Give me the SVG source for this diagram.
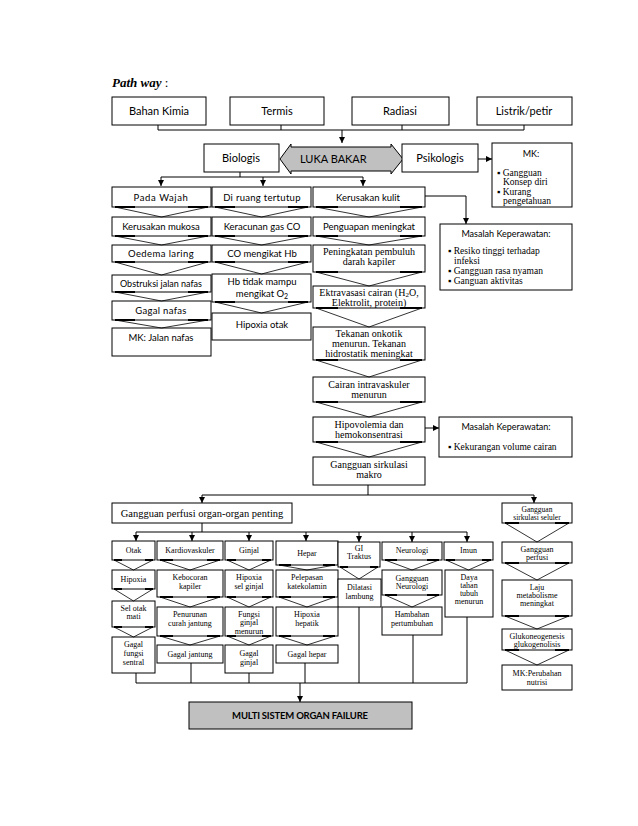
<svg xmlns="http://www.w3.org/2000/svg" width="638" height="826" viewBox="0 0 638 826">
<style>
.b{fill:#fff;stroke:#000;stroke-width:1}
.g{fill:#c0c0c0;stroke:#000;stroke-width:1}
.s{font-family:Lato,"Liberation Sans",sans-serif;fill:#000;text-anchor:middle}
.r{font-family:"Liberation Serif","Times New Roman",serif;fill:#000;text-anchor:middle}
.l{text-anchor:start}
.c{fill:none;stroke:#000;stroke-width:1}
.cv{fill:none;stroke:#000;stroke-width:0.8}
.fl{fill:none;stroke:#000;stroke-width:2.2}
</style>
<defs>
<marker id="ah" markerWidth="7" markerHeight="7" refX="6" refY="3.5" orient="auto" markerUnits="userSpaceOnUse"><path d="M0,0.5 L6,3.5 L0,6.5 z" fill="#000"/></marker>
<clipPath id="cMK"><rect x="492" y="143" width="80" height="64"/></clipPath>
<clipPath id="cFG"><rect x="225" y="607" width="48" height="29"/></clipPath>
</defs>
<rect width="638" height="826" fill="#fff"/>
<text x="112" y="87" font-family="Liberation Serif,serif" font-size="13"><tspan font-weight="bold" font-style="italic">Path way</tspan> :</text>

<g id="connectors">
<path class="c" d="M158,125 V130 M281,125 V130 M402,125 V130 M524,125 V130 M158,130 H524"/>
<path class="c" d="M342,130 V143" marker-end="url(#ah)"/>
<path class="c" d="M478,159 H492" marker-end="url(#ah)"/>
<path class="c" d="M240,172 V177 M161,177 H363"/>
<path class="c" d="M161,177 V186" marker-end="url(#ah)"/>
<path class="c" d="M263,177 V186" marker-end="url(#ah)"/>
<path class="c" d="M363,177 V186" marker-end="url(#ah)"/>
<path class="c" d="M425,196 H466 V224" marker-end="url(#ah)"/>
<path class="c" d="M425,428 H439" marker-end="url(#ah)"/>
<path class="c" d="M368,485 V495 M202,495 H534"/>
<path class="c" d="M202,495 V503" marker-end="url(#ah)"/>
<path class="c" d="M534,495 V503" marker-end="url(#ah)"/>
<path class="c" d="M202,523 V532 M136,532 H467"/>
<path class="c" d="M136,532 V541" marker-end="url(#ah)"/>
<path class="c" d="M192,532 V541" marker-end="url(#ah)"/>
<path class="c" d="M249,532 V541" marker-end="url(#ah)"/>
<path class="c" d="M306,532 V541" marker-end="url(#ah)"/>
<path class="c" d="M359,532 V542" marker-end="url(#ah)"/>
<path class="c" d="M412,532 V542" marker-end="url(#ah)"/>
<path class="c" d="M467,532 V542" marker-end="url(#ah)"/>
<path class="c" d="M136,673 V683 M191,663 V683 M249,673 V683 M305,663 V683 M359,607 V683 M413,635 V683 M467,617 V683 M136,683 H467"/>
<path class="c" d="M300,683 V702" marker-end="url(#ah)"/>
</g>

<g id="n-bahan"><rect class="b" x="112" y="97" width="94" height="28"/><text class="s" x="159" y="115" font-size="11">Bahan Kimia</text></g>
<g id="n-termis"><rect class="b" x="230" y="97" width="94" height="28"/><text class="s" x="277" y="115" font-size="11">Termis</text></g>
<g id="n-radiasi"><rect class="b" x="352" y="97" width="97" height="28"/><text class="s" x="400" y="115" font-size="11">Radiasi</text></g>
<g id="n-listrik"><rect class="b" x="477" y="97" width="95" height="28"/><text class="s" x="524" y="115" font-size="11">Listrik/petir</text></g>

<g id="n-biologis"><rect class="b" x="204" y="144" width="75" height="28"/><text class="s" x="241" y="162" font-size="11">Biologis</text></g>
<g id="n-luka"><path class="g" d="M280,159 L291,144 V147 H391 V144 L403,159 L391,174 V171 H291 V174 Z"/><text class="s l" x="300" y="163" font-size="11">LUKA BAKAR</text></g>
<g id="n-psikologis"><rect class="b" x="402" y="144" width="76" height="28"/><text class="s" x="440" y="162" font-size="11">Psikologis</text></g>
<g id="n-mk1"><rect class="b" x="492" y="143" width="80" height="64"/>
<g clip-path="url(#cMK)"><text class="s" x="531" y="157" font-size="9">MK:</text>
<text class="r l" font-size="9.5"><tspan x="497" y="176">▪ Gangguan</tspan><tspan x="503" y="185">Konsep diri</tspan><tspan x="497" y="195">▪ Kurang</tspan><tspan x="503" y="204">pengetahuan</tspan></text></g></g>

<g id="n-wajah"><rect class="b" x="112" y="187" width="99" height="20"/><text class="s" x="161" y="201" font-size="9.5" letter-spacing="0.6">Pada Wajah</text></g>
<g id="n-ruang"><rect class="b" x="212" y="187" width="99" height="20"/><text class="s" x="262" y="201" font-size="9.5" letter-spacing="0.3">Di ruang tertutup</text></g>
<g id="n-kulit"><rect class="b" x="313" y="187" width="112" height="20"/><text class="s" x="368" y="201" font-size="9.5">Kerusakan kulit</text></g>

<g id="n-mukosa"><rect class="b" x="112" y="217" width="99" height="19"/><text class="s" x="161" y="230" font-size="9.5">Kerusakan mukosa</text></g>
<g id="n-co"><rect class="b" x="212" y="217" width="99" height="19"/><text class="s" x="262" y="230" font-size="9.5">Keracunan gas CO</text></g>
<g id="n-penguapan"><rect class="b" x="313" y="217" width="112" height="19"/><text class="s" x="369" y="230" font-size="9.5">Penguapan meningkat</text></g>

<g id="n-oedema"><rect class="b" x="112" y="245" width="99" height="17"/><text class="s" x="161" y="257" font-size="9.5" letter-spacing="0.4">Oedema laring</text></g>
<g id="n-cohb"><rect class="b" x="212" y="245" width="99" height="17"/><text class="s" x="262" y="257" font-size="9.5">CO mengikat Hb</text></g>
<g id="n-pembuluh"><rect class="b" x="313" y="245" width="112" height="27"/><text class="r" x="369" y="255" font-size="10">Peningkatan pembuluh</text><text class="r" x="369" y="265" font-size="10">darah kapiler</text></g>

<g id="n-obstruksi"><rect class="b" x="112" y="275" width="99" height="17"/><text class="s" x="161" y="287" font-size="9">Obstruksi jalan nafas</text></g>
<g id="n-hb"><rect class="b" x="212" y="274" width="99" height="28"/><text class="s" x="262" y="285" font-size="9.5">Hb tidak mampu</text><text class="s" x="262" y="297" font-size="9.5">mengikat O<tspan font-size="7" dy="2">2</tspan></text></g>
<g id="n-ektravasasi"><rect class="b" x="313" y="286" width="112" height="22"/><text class="r" x="369" y="296" font-size="10">Ektravasasi cairan (H<tspan font-size="7" dy="1">2</tspan><tspan dy="-1">O,</tspan></text><text class="r" x="369" y="306" font-size="10">Elektrolit, protein)</text></g>

<g id="n-gagalnafas"><rect class="b" x="112" y="301" width="99" height="19"/><text class="s" x="161" y="314" font-size="9.5" letter-spacing="0.3">Gagal nafas</text></g>
<g id="n-hipoxiaotak"><rect class="b" x="212" y="313" width="99" height="27"/><text class="s" x="262" y="328" font-size="9.5">Hipoxia otak</text></g>
<g id="n-tekanan"><rect class="b" x="313" y="327" width="112" height="33"/><text class="r" x="369" y="337" font-size="10">Tekanan onkotik</text><text class="r" x="369" y="347" font-size="10">menurun. Tekanan</text><text class="r" x="369" y="357" font-size="10">hidrostatik meningkat</text></g>

<g id="n-mkjalan"><rect class="b" x="112" y="328" width="99" height="28"/><text class="s" x="161" y="341" font-size="9.5">MK: Jalan nafas</text></g>

<g id="n-masalah1"><rect class="b" x="440" y="224" width="132" height="66"/><text class="s" x="506" y="237" font-size="9">Masalah Keperawatan:</text>
<text class="r l" font-size="9.5"><tspan x="448" y="254">▪ Resiko tinggi terhadap</tspan><tspan x="454" y="263.5">infeksi</tspan><tspan x="448" y="274">▪ Gangguan rasa nyaman</tspan><tspan x="448" y="284">▪ Ganguan aktivitas</tspan></text></g>

<g id="n-cairan"><rect class="b" x="313" y="377" width="112" height="25"/><text class="r" x="369" y="388" font-size="10">Cairan intravaskuler</text><text class="r" x="369" y="398" font-size="10">menurun</text></g>
<g id="n-hipovolemia"><rect class="b" x="313" y="417" width="112" height="25"/><text class="r" x="369" y="428" font-size="10">Hipovolemia dan</text><text class="r" x="369" y="438" font-size="10">hemokonsentrasi</text></g>
<g id="n-masalah2"><rect class="b" x="439" y="417" width="133" height="40"/><text class="s" x="506" y="430" font-size="9">Masalah Keperawatan:</text>
<text class="r l" font-size="9.5" x="448" y="450">▪ Kekurangan volume cairan</text></g>
<g id="n-sirkulasi"><rect class="b" x="313" y="457" width="112" height="28"/><text class="r" x="369" y="468" font-size="10">Gangguan sirkulasi</text><text class="r" x="369" y="478" font-size="10">makro</text></g>

<g id="n-perfusi"><rect class="b" x="112" y="503" width="180" height="20"/><text class="r" x="202" y="517" font-size="10.5">Gangguan perfusi organ-organ penting</text></g>

<g id="n-otak"><rect class="b" x="112" y="541" width="43" height="19"/><text class="r" x="133.5" y="553" font-size="8">Otak</text></g>
<g id="n-kardio"><rect class="b" x="157" y="541" width="66" height="19"/><text class="r" x="190" y="553" font-size="8">Kardiovaskuler</text></g>
<g id="n-ginjal"><rect class="b" x="225" y="541" width="48" height="19"/><text class="r" x="249" y="553" font-size="8">Ginjal</text></g>
<g id="n-hepar"><rect class="b" x="276" y="541" width="62" height="24"/><text class="r" x="307" y="556" font-size="8">Hepar</text></g>
<g id="n-gi"><rect class="b" x="338" y="542" width="42" height="25"/><text class="r" x="359" y="551" font-size="8">GI</text><text class="r" x="359" y="559" font-size="8">Traktus</text></g>
<g id="n-neuro"><rect class="b" x="382" y="542" width="60" height="18"/><text class="r" x="412" y="553" font-size="8">Neurologi</text></g>
<g id="n-imun"><rect class="b" x="444" y="542" width="49" height="18"/><text class="r" x="468.5" y="553" font-size="8">Imun</text></g>

<g id="n-hipoxia1"><rect class="b" x="112" y="570" width="43" height="19"/><text class="r" x="133.5" y="582" font-size="8">Hipoxia</text></g>
<g id="n-kebocoran"><rect class="b" x="157" y="570" width="66" height="27"/><text class="r" x="190" y="580" font-size="8">Kebocoran</text><text class="r" x="190" y="589" font-size="8">kapiler</text></g>
<g id="n-hipoxiasel"><rect class="b" x="225" y="570" width="48" height="27"/><text class="r" x="249" y="580" font-size="8">Hipoxia</text><text class="r" x="249" y="589" font-size="8">sel ginjal</text></g>
<g id="n-pelepasan"><rect class="b" x="276" y="570" width="62" height="27"/><text class="r" x="307" y="580" font-size="8">Pelepasan</text><text class="r" x="307" y="589" font-size="8">katekolamin</text></g>
<g id="n-dilatasi"><rect class="b" x="338" y="579" width="43" height="28"/><text class="r" x="359.5" y="590" font-size="8">Dilatasi</text><text class="r" x="359.5" y="599" font-size="8">lambung</text></g>
<g id="n-gneuro"><rect class="b" x="382" y="570" width="60" height="25"/><text class="r" x="412" y="581" font-size="8">Gangguan</text><text class="r" x="412" y="589" font-size="8">Neurologi</text></g>
<g id="n-daya"><rect class="b" x="445" y="570" width="48" height="47"/><text class="r" x="469" y="580" font-size="8">Daya</text><text class="r" x="469" y="588" font-size="8">tahan</text><text class="r" x="469" y="596" font-size="8">tubuh</text><text class="r" x="469" y="604" font-size="8">menurun</text></g>

<g id="n-selotak"><rect class="b" x="112" y="601" width="43" height="26"/><text class="r" x="133.5" y="611" font-size="8">Sel otak</text><text class="r" x="133.5" y="619" font-size="8">mati</text></g>
<g id="n-penurunan"><rect class="b" x="157" y="607" width="66" height="29"/><text class="r" x="190" y="617" font-size="8">Penurunan</text><text class="r" x="190" y="626" font-size="8">curah jantung</text></g>
<g id="n-fungsi"><rect class="b" x="225" y="607" width="48" height="29"/><g clip-path="url(#cFG)"><text class="r" x="249" y="617" font-size="8">Fungsi</text><text class="r" x="249" y="625" font-size="8">ginjal</text><text class="r" x="249" y="634" font-size="8">menurun</text></g></g>
<g id="n-hipoxiahep"><rect class="b" x="276" y="607" width="62" height="29"/><text class="r" x="307" y="617" font-size="8">Hipoxia</text><text class="r" x="307" y="626" font-size="8">hepatik</text></g>
<g id="n-hambahan"><rect class="b" x="382" y="607" width="60" height="28"/><text class="r" x="412" y="617" font-size="8">Hambahan</text><text class="r" x="412" y="626" font-size="8">pertumbuhan</text></g>

<g id="n-gfungsi"><rect class="b" x="112" y="637" width="43" height="36"/><text class="r" x="133.5" y="647" font-size="8">Gagal</text><text class="r" x="133.5" y="656" font-size="8">fungsi</text><text class="r" x="133.5" y="665" font-size="8">sentral</text></g>
<g id="n-gjantung"><rect class="b" x="157" y="645" width="66" height="18"/><text class="r" x="190" y="657" font-size="8">Gagal jantung</text></g>
<g id="n-gginjal"><rect class="b" x="225" y="645" width="48" height="28"/><text class="r" x="249" y="656" font-size="8">Gagal</text><text class="r" x="249" y="665" font-size="8">ginjal</text></g>
<g id="n-ghepar"><rect class="b" x="276" y="645" width="62" height="18"/><text class="r" x="307" y="657" font-size="8">Gagal hepar</text></g>

<g id="n-seluler"><rect class="b" x="502" y="503" width="70" height="20"/><text class="r" x="537" y="512" font-size="7.5">Gangguan</text><text class="r" x="537" y="520" font-size="7.5">sirkulasi seluler</text></g>
<g id="n-gperfusi"><rect class="b" x="502" y="542" width="70" height="21"/><text class="r" x="537" y="552" font-size="8">Gangguan</text><text class="r" x="537" y="560" font-size="8">perfusi</text></g>
<g id="n-laju"><rect class="b" x="502" y="580" width="70" height="36"/><text class="r" x="537" y="590" font-size="8">Laju</text><text class="r" x="537" y="598" font-size="8">metabolisme</text><text class="r" x="537" y="606" font-size="8">meningkat</text></g>
<g id="n-gluko"><rect class="b" x="502" y="629" width="70" height="21"/><text class="r" x="537" y="639" font-size="8">Glukoneogenesis</text><text class="r" x="537" y="647" font-size="8">glukogenolisis</text></g>
<g id="n-mknutrisi"><rect class="b" x="502" y="665" width="70" height="25"/><text class="r" x="537" y="676" font-size="8">MK:Perubahan</text><text class="r" x="537" y="685" font-size="8">nutrisi</text></g>

<g id="n-multi"><rect class="g" x="189" y="702" width="223" height="27"/><text class="s" x="300" y="719" font-size="9.5" font-weight="bold" letter-spacing="-0.2">MULTI SISTEM ORGAN FAILURE</text></g>

<g id="chevrons">
<path class="cv" d="M115,207 L161.5,217 L208,207 M115,236 L161.5,245 L208,236 M115,262 L161.5,275 L208,262 M115,292 L161.5,301 L208,292 M115,320 L161.5,328 L208,320"/>
<path class="fl" d="M115,207 h20 M208,207 h-20 M115,236 h20 M208,236 h-20 M115,262 h20 M208,262 h-20 M115,292 h20 M208,292 h-20 M115,320 h20 M208,320 h-20"/>
<path class="cv" d="M215,207 L261.5,217 L308,207 M215,236 L261.5,245 L308,236 M215,262 L261.5,274 L308,262 M215,302 L261.5,313 L308,302"/>
<path class="fl" d="M215,207 h20 M308,207 h-20 M215,236 h20 M308,236 h-20 M215,262 h20 M308,262 h-20 M215,302 h20 M308,302 h-20"/>
<path class="cv" d="M316,207 L369,217 L422,207 M316,236 L369,245 L422,236 M316,272 L369,286 L422,272 M316,308 L369,327 L422,308 M316,360 L369,377 L422,360 M316,402 L369,417 L422,402 M316,442 L369,457 L422,442"/>
<path class="fl" d="M316,207 h22 M422,207 h-22 M316,236 h22 M422,236 h-22 M316,272 h22 M422,272 h-22 M316,308 h22 M422,308 h-22 M316,360 h22 M422,360 h-22 M316,402 h22 M422,402 h-22 M316,442 h22 M422,442 h-22"/>
<path class="cv" d="M114,560 L133.5,570 L153,560 M114,589 L133.5,601 L153,589 M114,627 L133.5,637 L153,627"/>
<path class="fl" d="M114,560 h8 M153,560 h-8 M114,589 h8 M153,589 h-8 M114,627 h8 M153,627 h-8"/>
<path class="cv" d="M160,560 L190,570 L220,560 M160,597 L190,607 L220,597 M160,636 L190,645 L220,636"/>
<path class="fl" d="M160,560 h13 M220,560 h-13 M160,597 h13 M220,597 h-13 M160,636 h13 M220,636 h-13"/>
<path class="cv" d="M227,560 L249,570 L271,560 M227,597 L249,607 L271,597 M227,636 L249,645 L271,636"/>
<path class="fl" d="M227,560 h9 M271,560 h-9 M227,597 h9 M271,597 h-9 M227,636 h9 M271,636 h-9"/>
<path class="cv" d="M279,565 L307,570 L335,565 M279,597 L307,607 L335,597 M279,636 L307,645 L335,636"/>
<path class="fl" d="M279,565 h12 M335,565 h-12 M279,597 h12 M335,597 h-12 M279,636 h12 M335,636 h-12"/>
<path class="cv" d="M340,567 L359,579 L378,567"/>
<path class="fl" d="M340,567 h8 M378,567 h-8"/>
<path class="cv" d="M385,560 L412,570 L439,560 M385,595 L412,607 L439,595"/>
<path class="fl" d="M385,560 h12 M439,560 h-12 M385,595 h12 M439,595 h-12"/>
<path class="cv" d="M446,560 L468.5,570 L491,560"/>
<path class="fl" d="M446,560 h9 M491,560 h-9"/>
<path class="cv" d="M505,523 L537,542 L569,523 M505,563 L537,580 L569,563 M505,616 L537,629 L569,616 M505,650 L537,665 L569,650"/>
<path class="fl" d="M505,523 h14 M569,523 h-14 M505,563 h14 M569,563 h-14 M505,616 h14 M569,616 h-14 M505,650 h14 M569,650 h-14"/>
</g>
</svg>
